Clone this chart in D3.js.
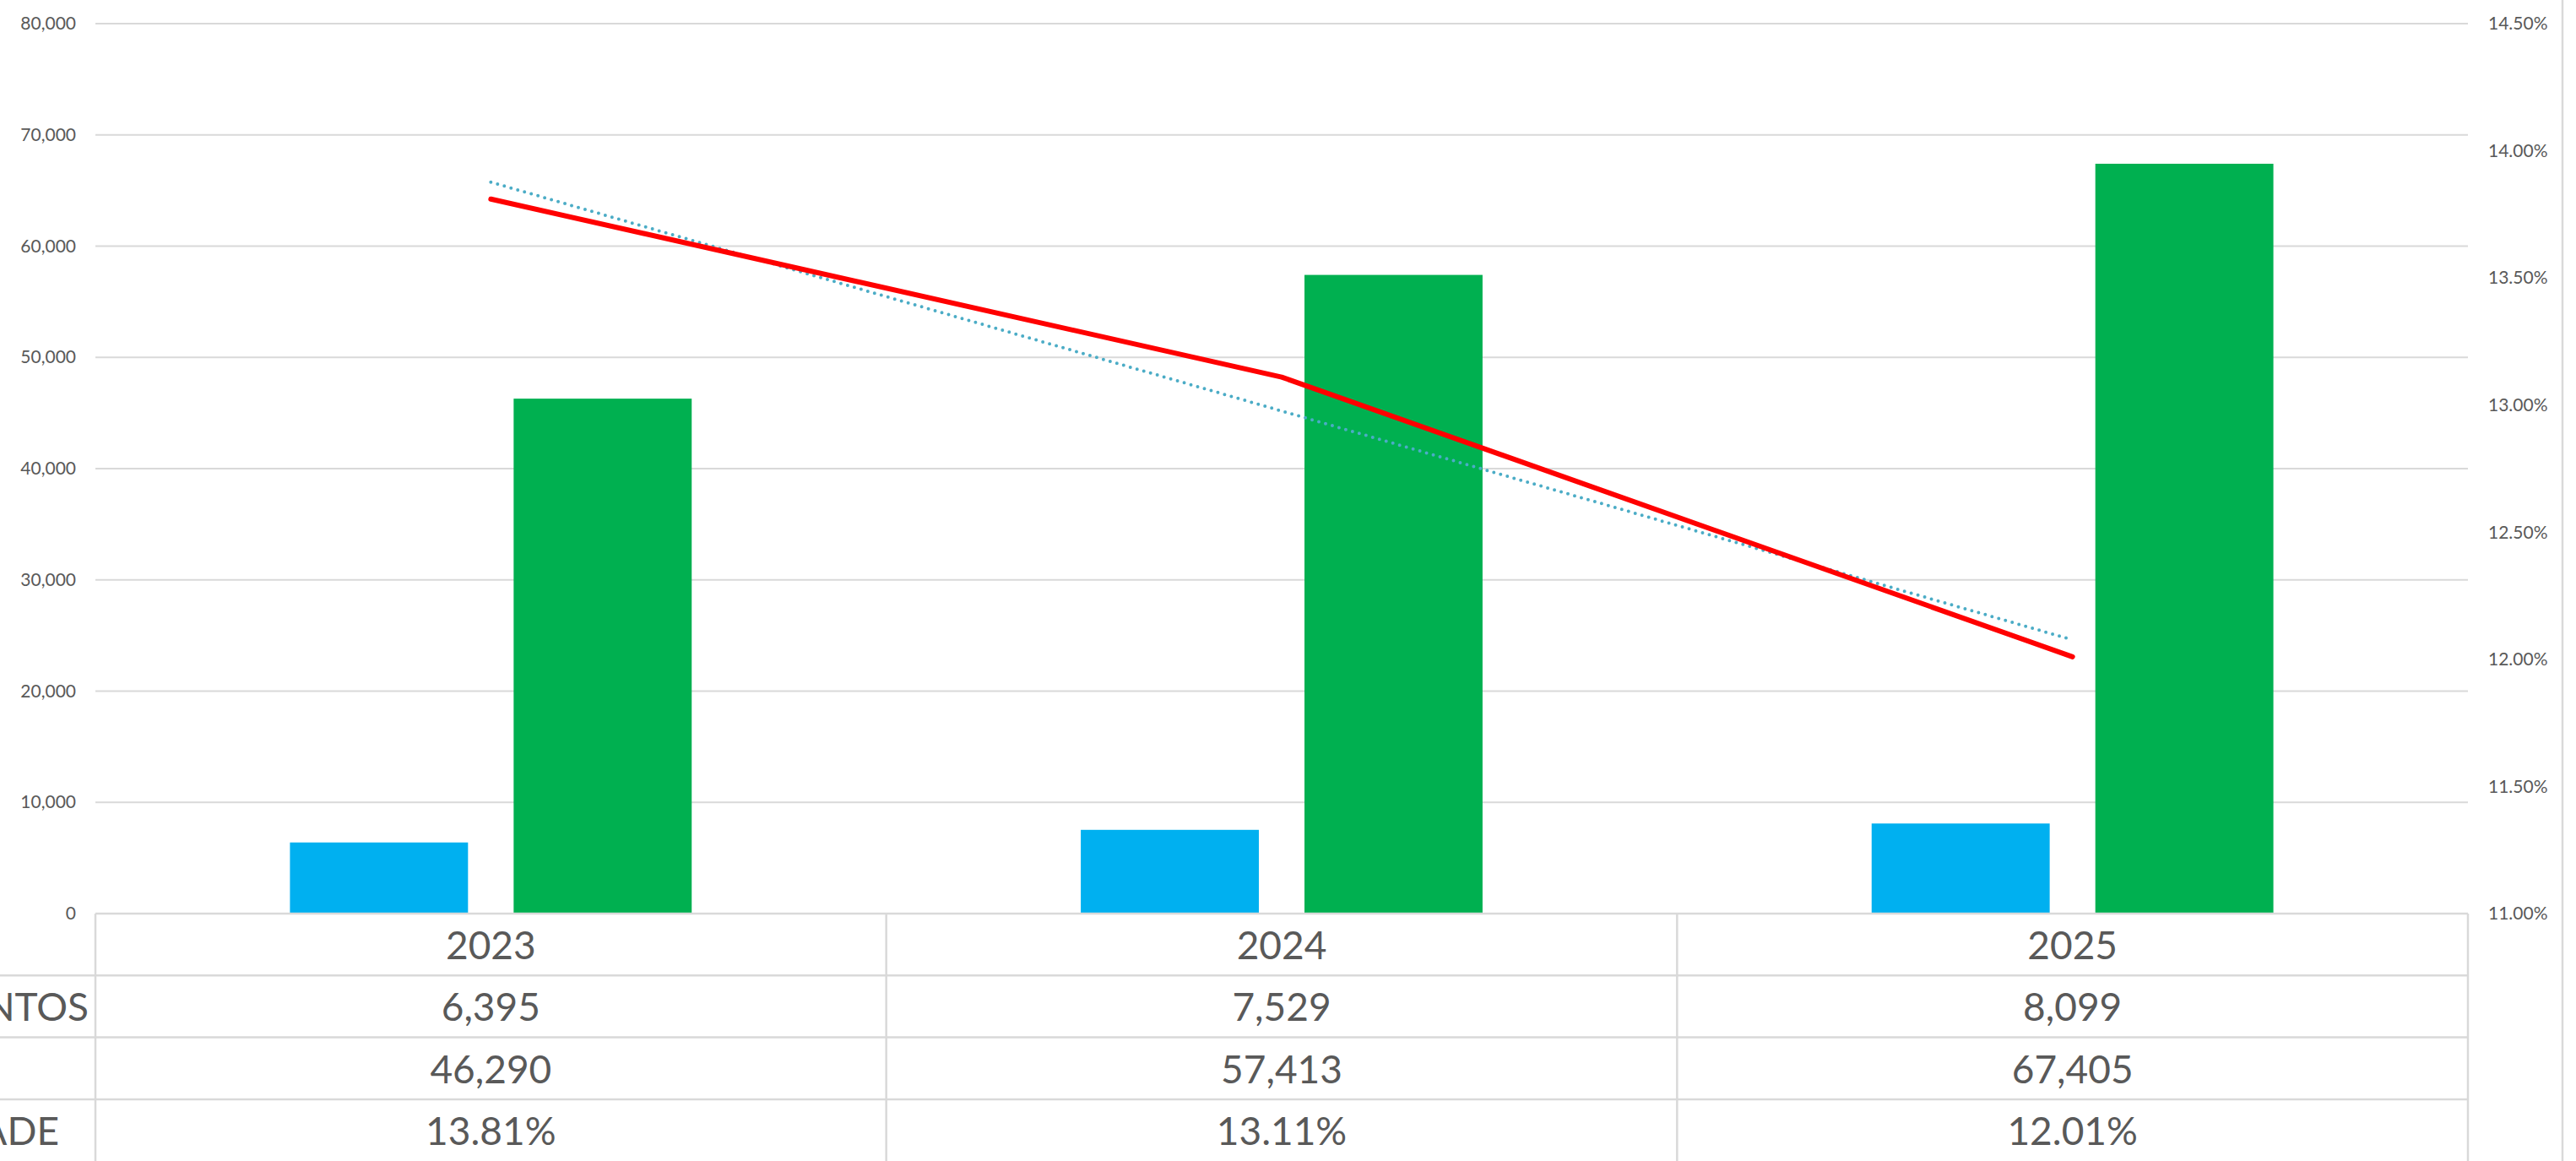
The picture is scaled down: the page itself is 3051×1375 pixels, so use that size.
<!DOCTYPE html>
<html>
<head>
<meta charset="utf-8">
<script src="https://cdn.jsdelivr.net/npm/d3@7"></script>
<style>
  html, body { margin: 0; padding: 0; background: #fff; overflow: hidden; }
  svg { display: block; }
  text { font-family: Lato, "Open Sans", sans-serif; fill: #595959; }
</style>
</head>
<body>
<svg id="chart" width="3051" height="1375"></svg>
<script>
// ---- data ----
const categories = ["2023", "2024", "2025"];
const seriesBlue = [6395, 7529, 8099];
const seriesGreen = [46290, 57413, 67405];
const seriesRate = [0.1381, 0.1311, 0.1201];
const rowLabels = ["NTOS", "", "ADE"];
const leftTicks = [0, 10000, 20000, 30000, 40000, 50000, 60000, 70000, 80000];
const rightTicks = [0.11, 0.115, 0.12, 0.125, 0.13, 0.135, 0.14, 0.145];

// ---- layout ----
const W = 3051, H = 1375;
const plot = { left: 113, right: 2923, top: 28, bottom: 1082 };
const rowH = 73.3;
const gridColor = "#D9D9D9";
const textColor = "#595959";

const svg = d3.select("#chart");

const x0 = d3.scaleBand().domain(categories).range([plot.left, plot.right]).paddingInner(0).paddingOuter(0);
const groupW = x0.bandwidth() * 0.508;
const x1 = d3.scaleBand().domain(["blue", "green"]).range([-groupW / 2, groupW / 2]).paddingInner(0.204).paddingOuter(0);
const yL = d3.scaleLinear().domain([0, 80000]).range([plot.bottom, plot.top]);
const yR = d3.scaleLinear().domain([0.11, 0.145]).range([plot.bottom, plot.top]);
const cx = c => x0(c) + x0.bandwidth() / 2;

// gridlines
svg.append("g").selectAll("line").data(leftTicks.filter(t => t > 0)).join("line")
  .attr("x1", plot.left).attr("x2", plot.right)
  .attr("y1", d => yL(d)).attr("y2", d => yL(d))
  .attr("stroke", gridColor).attr("stroke-width", 2);

// left axis
const leftAxis = d3.axisLeft(yL).tickValues(leftTicks).tickFormat(d3.format(",")).tickSize(0).tickPadding(0);
const gL = svg.append("g").attr("transform", "translate(90,0)").call(leftAxis);
gL.select(".domain").remove();
gL.selectAll("text").attr("font-size", 21).style("fill", textColor).attr("font-family", "Lato, sans-serif");

// right axis
const rightAxis = d3.axisRight(yR).tickValues(rightTicks).tickFormat(d3.format(".2%")).tickSize(0).tickPadding(0);
const gR = svg.append("g").attr("transform", "translate(2947,0)").call(rightAxis);
gR.select(".domain").remove();
gR.selectAll("text").attr("font-size", 21).style("fill", textColor).attr("font-family", "Lato, sans-serif");

// bars
const barData = [];
categories.forEach((c, i) => {
  barData.push({ c, key: "blue", v: seriesBlue[i], color: "#00B0F0" });
  barData.push({ c, key: "green", v: seriesGreen[i], color: "#00B050" });
});
svg.append("g").selectAll("rect").data(barData).join("rect")
  .attr("x", d => cx(d.c) + x1(d.key))
  .attr("width", x1.bandwidth())
  .attr("y", d => yL(d.v))
  .attr("height", d => yL(0) - yL(d.v))
  .attr("fill", d => d.color);

// trendline (linear regression of the rate series)
const n = seriesRate.length;
const xs = seriesRate.map((_, i) => i + 1);
const mx = d3.mean(xs), my = d3.mean(seriesRate);
const slope = d3.sum(xs.map((xv, i) => (xv - mx) * (seriesRate[i] - my))) / d3.sum(xs.map(xv => (xv - mx) ** 2));
const intercept = my - slope * mx;
const trend = categories.map((c, i) => ({ c, v: intercept + slope * (i + 1) }));
svg.append("path")
  .datum([trend[0], trend[n - 1]])
  .attr("d", d3.line().x(d => cx(d.c)).y(d => yR(d.v)))
  .attr("fill", "none").attr("stroke", "#4BACC6").attr("stroke-width", 4)
  .attr("stroke-linecap", "round").attr("stroke-dasharray", "0 8.3");

// rate line
svg.append("path")
  .datum(categories.map((c, i) => ({ c, v: seriesRate[i] })))
  .attr("d", d3.line().x(d => cx(d.c)).y(d => yR(d.v)))
  .attr("fill", "none").attr("stroke", "#FF0000").attr("stroke-width", 6)
  .attr("stroke-linecap", "round").attr("stroke-linejoin", "round");

// data table
const tbl = svg.append("g");
// top line (baseline)
tbl.append("line").attr("x1", plot.left).attr("x2", plot.right)
  .attr("y1", plot.bottom).attr("y2", plot.bottom)
  .attr("stroke", gridColor).attr("stroke-width", 2.5);
// row lines
[1, 2, 3].forEach(r => {
  tbl.append("line").attr("x1", 0).attr("x2", plot.right)
    .attr("y1", plot.bottom + r * rowH).attr("y2", plot.bottom + r * rowH)
    .attr("stroke", gridColor).attr("stroke-width", 2.5);
});
// vertical lines
const vx = [plot.left].concat(categories.map(c => x0(c) + x0.bandwidth()));
tbl.selectAll("line.v").data(vx).join("line").attr("class", "v")
  .attr("x1", d => d).attr("x2", d => d)
  .attr("y1", plot.bottom).attr("y2", H)
  .attr("stroke", gridColor).attr("stroke-width", 2.5);

const rows = [
  categories,
  seriesBlue.map(d3.format(",")),
  seriesGreen.map(d3.format(",")),
  seriesRate.map(d3.format(".2%"))
];
rows.forEach((vals, r) => {
  tbl.selectAll("text.r" + r).data(vals).join("text").attr("class", "r" + r)
    .attr("x", (d, i) => cx(categories[i]))
    .attr("y", plot.bottom + (r + 0.5) * rowH)
    .attr("text-anchor", "middle").attr("dominant-baseline", "central")
    .attr("font-size", 46).text(d => d);
});
// row labels (clipped at the left edge)
const labelEnds = [105, 105, 70];
rowLabels.forEach((t, i) => {
  if (!t) return;
  tbl.append("text")
    .attr("x", labelEnds[i]).attr("y", plot.bottom + (i + 1.5) * rowH)
    .attr("text-anchor", "end").attr("dominant-baseline", "central")
    .attr("font-size", 46).text(t);
});

// chart border at right
svg.append("line").attr("x1", 3035).attr("x2", 3035).attr("y1", 0).attr("y2", H)
  .attr("stroke", gridColor).attr("stroke-width", 2.5);
</script>
</body>
</html>
